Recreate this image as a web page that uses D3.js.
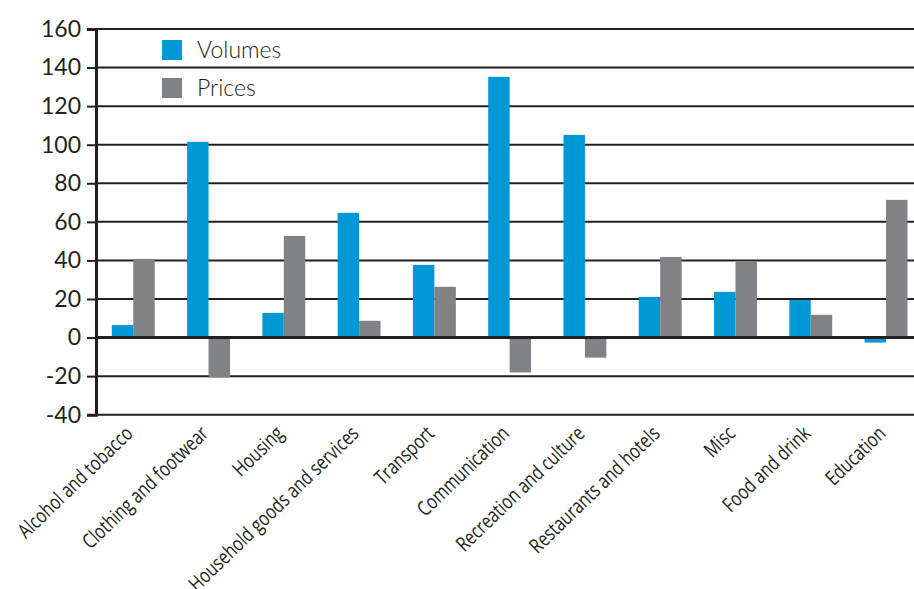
<!DOCTYPE html>
<html><head><meta charset="utf-8">
<script src="https://cdn.jsdelivr.net/npm/d3@7"></script>
<style>
html,body{margin:0;padding:0;background:#fff;}
svg{display:block;}
</style></head>
<body>
<svg id="chart" width="914" height="589"></svg>
<script>
const categories = ["Alcohol and tobacco","Clothing and footwear","Housing","Household goods and services","Transport","Communication","Recreation and culture","Restaurants and hotels","Misc","Food and drink","Education"];
const volumes = [6.5, 101.5, 12.8, 64.7, 37.7, 135.2, 105.1, 21.1, 23.7, 19.5, -2.6];
const prices = [40.8, -20.7, 52.7, 8.7, 26.3, -18.1, -10.4, 41.8, 39.3, 11.8, 71.4];
const yTicks = [-40, -20, 0, 20, 40, 60, 80, 100, 120, 140, 160];
const seriesNames = ["Volumes", "Prices"];
const colors = ["#0099d6", "#808285"];

const svg = d3.select("#chart");
const x0 = 96, xEnd = 914;
const y = d3.scaleLinear().domain([-40, 160]).range([414.7, 29]);
const x = d3.scaleBand().domain(categories).range([96, 923.3]).paddingInner(0.43).paddingOuter(0.21);
const xs = d3.scaleBand().domain(seriesNames).range([0, x.bandwidth()]);

// gridlines
svg.append("g").selectAll("line").data(yTicks).join("line")
  .attr("x1", x0).attr("x2", xEnd)
  .attr("y1", d => y(d)).attr("y2", d => y(d))
  .attr("stroke", "#231f20").attr("stroke-width", 2);

// bars
const data = [volumes, prices];
seriesNames.forEach((s, si) => {
  svg.append("g").selectAll("rect").data(categories).join("rect")
    .attr("x", c => x(c) + xs(s))
    .attr("width", xs.bandwidth())
    .attr("y", (c, i) => y(Math.max(0, data[si][i])))
    .attr("height", (c, i) => Math.abs(y(data[si][i]) - y(0)))
    .attr("fill", colors[si]);
});

// zero line over bars
svg.append("line").attr("x1", x0).attr("x2", xEnd).attr("y1", y(0)).attr("y2", y(0))
  .attr("stroke", "#231f20").attr("stroke-width", 3);

// y axis
const yAxis = d3.axisLeft(y).tickValues(yTicks).tickSize(9).tickPadding(6).tickFormat(d3.format("d"));
const gy = svg.append("g").attr("transform", `translate(${x0},0)`).call(yAxis);
gy.select(".domain").attr("stroke", "#231f20").attr("stroke-width", 3);
gy.selectAll(".tick line").attr("stroke", "#231f20").attr("stroke-width", 2);
gy.selectAll(".tick text").attr("font-family", "Lato, 'Open Sans', sans-serif").attr("font-weight", 400)
  .attr("font-size", 23).attr("fill", "#231f20").text(d => d < 0 ? "-" + Math.abs(d) : d);

// x labels
const gx = svg.append("g");
gx.selectAll("text").data(categories).join("text")
  .attr("transform", c => `translate(${x(c) + x.bandwidth() / 2 + 1},${435}) rotate(-44) scale(0.78,1)`)
  .attr("text-anchor", "end")
  .attr("font-family", "'Open Sans', sans-serif")
  .attr("font-size", 20.5).attr("fill", "#231f20")
  .text(c => c);

// legend
const legend = svg.append("g");
seriesNames.forEach((s, i) => {
  legend.append("rect").attr("x", 162).attr("y", 40 + i * 38).attr("width", 20).attr("height", 20).attr("fill", colors[i]);
  legend.append("text").attr("x", 197).attr("y", 58 + i * 38)
    .attr("font-family", "Lato, 'Open Sans', sans-serif").attr("font-weight", 300)
    .attr("font-size", 23).attr("fill", "#231f20").text(s);
});
</script>
</body></html>
